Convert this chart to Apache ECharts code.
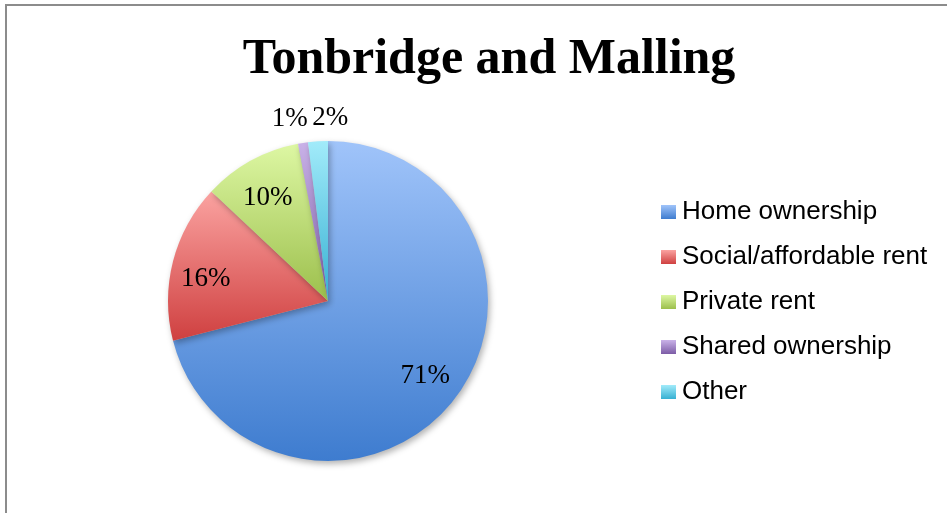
<!DOCTYPE html>
<html>
<head>
<meta charset="utf-8">
<script src="https://cdn.jsdelivr.net/npm/echarts@6/dist/echarts.min.js"></script>
<style>
  html, body { margin: 0; padding: 0; background: #fff; }
  #frame { position: absolute; left: 5px; top: 4px; width: 1000px; height: 600px;
           border-left: 2px solid #8c8c8c; border-top: 2px solid #8c8c8c; }
  #pie { position: absolute; left: 0; top: 0; width: 947px; height: 513px; }
</style>
</head>
<body>
<div id="frame"></div>
<div id="pie"></div>
<script>
// tenure split, Tonbridge and Malling (percent)
var categories = ["Home ownership", "Social/affordable rent", "Private rent", "Shared ownership", "Other"];
var shares = [71, 16, 10, 1, 2];

// light (top) -> dark (bottom) fill per slice
var topColors = ["#a0c4fa", "#fba3a1", "#ddf7a3", "#c9b2e8", "#a2ebfa"];
var bottomColors = ["#3e7ccf", "#cf4040", "#9cbf4c", "#7c5ca6", "#36b0d2"];

// label tweaks (best-fit placement); the small slices go outside the pie
var labelNudge = {
  "Social/affordable rent": [-3, 8],
  "Private rent": [-1, 5],
  "Shared ownership": [-19, -61],
  "Other": [10, -60]
};

function fill(i) {
  return new echarts.graphic.LinearGradient(0, 0, 0, 1, [
    { offset: 0, color: topColors[i] },
    { offset: 1, color: bottomColors[i] }
  ]);
}

var pieData = categories.map(function (name, i) {
  return { name: name, value: shares[i], itemStyle: { color: fill(i) } };
});

var labelData = categories.map(function (name, i) {
  var item = { name: name, value: shares[i] };
  if (labelNudge[name]) item.label = { offset: labelNudge[name] };
  return item;
});

var myChart = echarts.init(document.getElementById("pie"));
myChart.setOption({
  animation: false,
  title: {
    text: "Tonbridge and Malling",
    left: 484,
    textAlign: "center",
    top: 30,
    textStyle: {
      fontFamily: "Liberation Serif",
      fontWeight: "bold",
      fontSize: 50,
      color: "#000"
    }
  },
  legend: {
    orient: "vertical",
    left: 656,
    top: 194,
    itemWidth: 15,
    itemHeight: 14,
    itemGap: 19,
    icon: "rect",
    textStyle: {
      fontFamily: "Liberation Sans",
      fontSize: 26,
      lineHeight: 26,
      color: "#000",
      padding: [0, 0, 0, 1]
    },
    data: categories
  },
  series: [
    {
      type: "pie",
      center: [328, 301],
      radius: [0, 160],
      startAngle: 90,
      clockwise: true,
      silent: true,
      label: { show: false },
      labelLine: { show: false },
      itemStyle: {
        borderWidth: 0,
        shadowBlur: 6,
        shadowOffsetX: 2,
        shadowOffsetY: 3,
        shadowColor: "rgba(0,0,0,0.3)"
      },
      emphasis: { disabled: true },
      data: pieData
    },
    {
      // transparent ring that only carries the labels
      type: "pie",
      center: [328, 301],
      radius: [80, 160],
      startAngle: 90,
      clockwise: true,
      silent: true,
      itemStyle: { color: "rgba(0,0,0,0)", borderWidth: 0 },
      label: {
        show: true,
        position: "inside",
        formatter: "{c}%",
        fontFamily: "Liberation Serif",
        fontSize: 27,
        color: "#000"
      },
      labelLine: { show: false },
      emphasis: { disabled: true },
      data: labelData
    }
  ]
});
</script>
</body>
</html>
